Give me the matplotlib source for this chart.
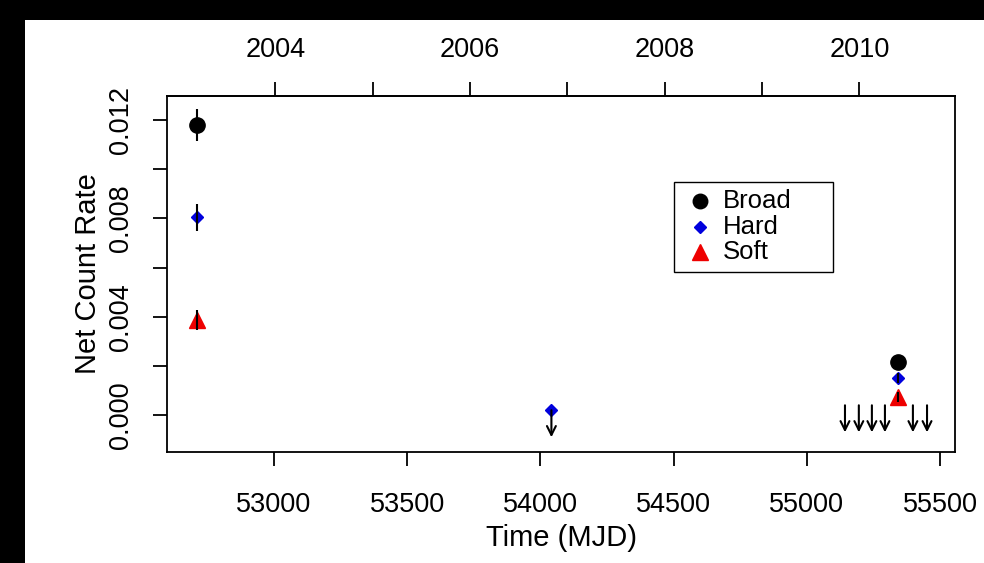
import matplotlib
matplotlib.use("Agg")
import matplotlib.pyplot as plt
from matplotlib.patches import Rectangle

plt.rcParams["font.family"] = ["Liberation Sans", "DejaVu Sans"]

# Detections: epoch (MJD), rates and 1-sigma errors per band
det_mjd = [52711, 55342]
broad_rate = [0.0118, 0.00215]
broad_err = [0.00067, 0.0003]
hard_rate = [0.00805, 0.0015]
hard_err = [0.00055, 0.0002]
soft_rate = [0.00386, 0.00073]
soft_err = [0.0004, 0.0002]

# Epoch with only a hard-band value that is an upper limit
hard_ul_mjd = [54041]
hard_ul_rate = [0.0002]

# Epochs with upper limits only
ul_mjd = [55143, 55195, 55244, 55293, 55398, 55451]
ul_rate = [0.0004, 0.0004, 0.0004, 0.0004, 0.0004, 0.0004]

# Year ticks on the top axis (MJD of 1 January)
year_mjd = [53005, 53371, 53736, 54101, 54466, 54832, 55197]
year_labels = ["2004", "", "2006", "", "2008", "", "2010"]

x_ticks = [53000, 53500, 54000, 54500, 55000, 55500]
y_ticks = [0.000, 0.002, 0.004, 0.006, 0.008, 0.010, 0.012]
y_labels = ["0.000", "", "0.004", "", "0.008", "", "0.012"]

series_names = ["Broad", "Hard", "Soft"]

W, H = 984, 563
fig = plt.figure(figsize=(W / 100, H / 100), dpi=100)
fig.patch.set_facecolor("white")

# dark frame along the top and left edges
fig.add_artist(Rectangle((0, 1 - 20 / H), 1, 20 / H, transform=fig.transFigure,
                         facecolor="black", edgecolor="none"))
fig.add_artist(Rectangle((0, 0), 25 / W, 1, transform=fig.transFigure,
                         facecolor="black", edgecolor="none"))

ax = fig.add_axes([167 / W, 1 - 452 / H, (955 - 167) / W, (452 - 96) / H])
ax.set_xlim(52598, 55556)
ax.set_ylim(-0.0015, 0.01298)

fs_tick = 19.5
fs_lab = 21
fs_leg = 18.5

BLUE = "#0000dd"
RED = "#ee0000"
styles = [("o", "black", 11), ("D", BLUE, 6.5), ("^", RED, 12)]

# markers, then error bars drawn over them
for (mk, col, ms), rates in zip(styles, (broad_rate, hard_rate, soft_rate)):
    ax.plot(det_mjd, rates, mk, color=col, ms=ms, zorder=3)
ax.plot(hard_ul_mjd, hard_ul_rate, "D", color=BLUE, ms=6.5, zorder=3)
for rates, errs in ((broad_rate, broad_err), (hard_rate, hard_err), (soft_rate, soft_err)):
    ax.errorbar(det_mjd, rates, yerr=errs, fmt="none", ecolor="black",
                elinewidth=1.5, capsize=0, zorder=4)

# upper limits as downward arrows
arrow_len = 0.0011
arrow_kw = dict(arrowstyle="->", color="black", lw=1.5, mutation_scale=16,
                shrinkA=0, shrinkB=0)
for x, y in zip(hard_ul_mjd + ul_mjd, hard_ul_rate + ul_rate):
    ax.annotate("", xy=(x, y - arrow_len), xytext=(x, y), arrowprops=arrow_kw, zorder=4)

# axes styling
for s in ax.spines.values():
    s.set_linewidth(1.3)
    s.set_color("black")
ax.set_xticks(x_ticks)
ax.set_xticklabels([str(t) for t in x_ticks], fontsize=fs_tick)
ax.set_yticks(y_ticks)
ax.set_yticklabels(y_labels, fontsize=fs_tick, rotation=90, va="center")
ax.tick_params(direction="out", length=10, width=1.3)
ax.tick_params(axis="x", pad=19)
ax.tick_params(axis="y", pad=14)

top = ax.secondary_xaxis("top")
top.set_xticks(year_mjd)
top.set_xticklabels(year_labels, fontsize=fs_tick)
top.tick_params(direction="out", length=10, width=1.3, pad=14)
top.spines["top"].set_linewidth(1.3)

ax.set_xlabel("Time (MJD)", fontsize=fs_lab, labelpad=4)
ax.set_ylabel("Net Count Rate", fontsize=fs_lab, labelpad=4)

# legend box drawn in axes fractions
ax_w, ax_h = 955 - 167, 452 - 96
def fx(px):
    return (px - 167) / ax_w
def fy(py):
    return (452 - py) / ax_h

ax.add_patch(Rectangle((fx(674), fy(272)), fx(833) - fx(674), fy(182) - fy(272),
                       transform=ax.transAxes, facecolor="white", edgecolor="black",
                       lw=1.0, zorder=5))
for i, ((mk, col, ms), name) in enumerate(zip(styles, series_names)):
    yy = fy(201 + 25.5 * i)
    ax.plot([fx(700)], [yy], mk, color=col, ms=ms * 0.95, transform=ax.transAxes,
            zorder=6, clip_on=False)
    ax.text(fx(723), yy, name, transform=ax.transAxes, fontsize=fs_leg,
            va="center", ha="left", zorder=6)

fig.savefig("out.png", dpi=100, facecolor="white")
